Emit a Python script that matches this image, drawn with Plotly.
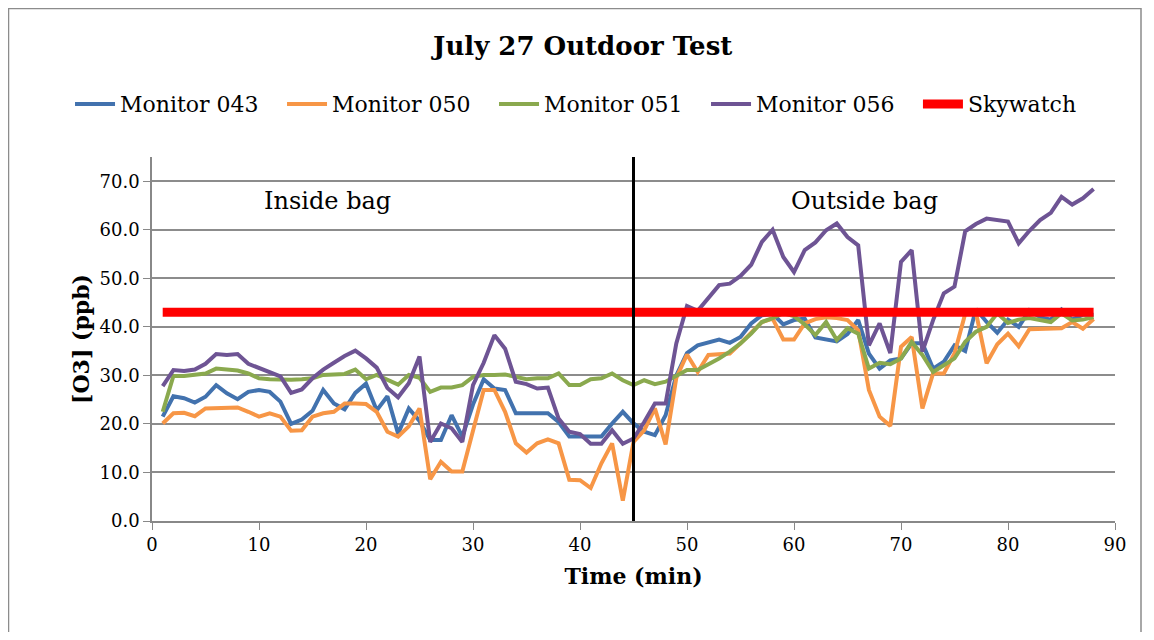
import plotly.graph_objects as go

minutes = list(range(1, 89))

monitor_043 = [21.5, 25.7, 25.3, 24.4, 25.6, 28.0, 26.3, 25.1, 26.6, 27.0,
               26.6, 24.6, 20.0, 20.9, 22.7, 27.0, 24.2, 23.0, 26.4, 28.3,
               22.8, 25.7, 18.0, 23.2, 20.6, 16.7, 16.7, 21.8, 17.4, 24.0,
               29.2, 27.3, 27.0, 22.2, 22.2, 22.2, 22.2, 20.4, 17.4, 17.4,
               17.4, 17.4, 20.1, 22.5, 20.1, 18.4, 17.7, 21.8, 30.0, 34.6,
               36.2, 36.9, 37.4, 36.7, 37.9, 40.7, 42.4, 42.7, 40.5, 41.4,
               41.7, 37.8, 37.4, 37.0, 38.5, 41.4, 34.5, 31.4, 33.1, 33.5,
               36.6, 36.6, 31.4, 32.8, 36.2, 35.0, 43.7, 41.0, 38.8, 41.5,
               40.0, 43.4, 42.0, 41.5, 43.6, 41.5, 42.5, 42.5]

monitor_050 = [20.1, 22.2, 22.3, 21.6, 23.2, 23.2, 23.3, 23.4, 22.5, 21.5,
               22.2, 21.5, 18.6, 18.7, 21.5, 22.2, 22.5, 24.2, 24.2, 24.1,
               22.5, 18.4, 17.4, 19.5, 23.2, 8.6, 12.2, 10.2, 10.2, 18.4,
               27.0, 27.0, 22.5, 16.0, 14.1, 16.0, 16.8, 16.0, 8.5, 8.4,
               6.8, 11.9, 16.0, 4.2, 16.3, 18.7, 23.2, 15.8, 29.5, 34.3,
               30.7, 34.2, 34.4, 34.5, 36.6, 38.9, 41.0, 41.7, 37.4, 37.4,
               40.7, 41.6, 42.0, 41.8, 41.4, 39.3, 27.0, 21.5, 19.6, 35.9,
               37.9, 23.2, 30.4, 30.4, 34.5, 42.7, 43.0, 32.5, 36.4, 38.6,
               36.0, 39.5, 39.6, 39.6, 39.7, 41.0, 39.6, 41.6]

monitor_051 = [22.5, 29.9, 29.9, 30.2, 30.4, 31.4, 31.1, 31.0, 30.4, 29.4,
               29.2, 29.1, 29.1, 29.2, 29.4, 30.1, 30.3, 30.3, 31.2, 29.2,
               30.1, 29.1, 28.1, 30.1, 29.5, 26.6, 27.5, 27.5, 28.0, 29.7,
               30.1, 30.1, 30.2, 29.7, 29.2, 29.4, 29.4, 30.4, 28.0, 28.0,
               29.2, 29.4, 30.4, 29.0, 28.0, 29.0, 28.2, 28.7, 30.0, 31.1,
               31.1, 32.2, 33.5, 34.9, 36.6, 38.6, 41.0, 41.8, 42.8, 42.2,
               40.5, 38.3, 41.0, 37.3, 39.7, 38.6, 31.4, 32.6, 32.3, 33.5,
               36.9, 34.2, 30.7, 32.1, 33.5, 36.9, 39.0, 40.0, 42.8, 40.8,
               41.5, 41.8, 41.5, 41.0, 42.8, 41.3, 41.5, 42.0]

monitor_056 = [27.8, 31.1, 30.9, 31.2, 32.4, 34.4, 34.2, 34.4, 32.4, 31.6,
               30.7, 29.8, 26.4, 27.1, 29.4, 31.2, 32.6, 34.0, 35.1, 33.5,
               31.6, 27.4, 25.5, 28.4, 33.9, 16.3, 20.1, 19.1, 16.3, 28.0,
               32.6, 38.3, 35.5, 28.7, 28.2, 27.3, 27.5, 21.1, 18.4, 17.9,
               15.9, 15.9, 18.7, 15.9, 17.0, 20.4, 24.2, 24.2, 36.6, 44.3,
               43.3, 45.8, 48.6, 48.9, 50.5, 52.8, 57.5, 60.0, 54.4, 51.3,
               55.8, 57.4, 59.9, 61.3, 58.5, 56.8, 36.2, 40.7, 34.6, 53.4,
               55.8, 34.9, 41.4, 46.9, 48.3, 59.7, 61.2, 62.3, 62.1, 61.7,
               57.2, 59.8, 62.0, 63.5, 66.8, 65.2, 66.5, 68.4]

skywatch_t = [1, 88]
skywatch = [43.0, 43.0]

bag_removed_t = 45

series = [
    ("Monitor 043", monitor_043, "#4272AE"),
    ("Monitor 050", monitor_050, "#F79646"),
    ("Monitor 051", monitor_051, "#8AA94E"),
    ("Monitor 056", monitor_056, "#6E5494"),
]

serif = "DejaVu Serif"

fig = go.Figure()
for name, vals, col in series:
    fig.add_trace(go.Scatter(
        x=minutes, y=vals, name=name, mode="lines",
        line=dict(color=col, width=4),
    ))

# second legend box keeps the five entries on one row
fig.add_trace(go.Scatter(
    x=skywatch_t, y=skywatch, name="Skywatch", mode="lines",
    line=dict(color="#FF0000", width=9), legend="legend2",
))

fig.add_vline(x=bag_removed_t, line=dict(color="black", width=3))

fig.add_annotation(x=16.4, y=65.9, text="Inside bag", showarrow=False,
                   font=dict(family=serif, size=24, color="black"))
fig.add_annotation(x=66.6, y=65.9, text="Outside bag", showarrow=False,
                   font=dict(family=serif, size=24, color="black"))

# outer chart border
fig.add_shape(type="rect", xref="paper", yref="paper",
              x0=-0.149, x1=1.027, y0=-0.35, y1=1.408,
              line=dict(color="#8c8c8c", width=1.5))

legend_style = dict(orientation="h", xref="container", yref="container",
                    y=0.846, xanchor="left", yanchor="middle",
                    font=dict(family=serif, size=22, color="black"),
                    itemwidth=40, tracegroupgap=0, traceorder="normal")

fig.update_layout(
    width=1138, height=624,
    paper_bgcolor="white", plot_bgcolor="white",
    margin=dict(l=144, r=31, t=149, b=111),
    title=dict(text="<b>July 27 Outdoor Test</b>", x=0.505, y=0.94,
               xanchor="center", yanchor="middle",
               font=dict(family=serif, size=26, color="black")),
    legend=dict(x=0.0545, entrywidth=157, **legend_style),
    legend2=dict(x=0.7996, **legend_style),
    xaxis=dict(range=[0, 90], dtick=10, tick0=0, showgrid=False, zeroline=False,
               showline=True, linecolor="#888888", linewidth=1.5,
               ticks="outside", ticklen=7, tickcolor="#888888",
               tickfont=dict(family=serif, size=18, color="black"),
               title=dict(text="<b>Time (min)</b>", standoff=14,
                          font=dict(family=serif, size=22, color="black"))),
    yaxis=dict(range=[0, 75], dtick=10, tick0=0, tickformat=".1f",
               showgrid=True, gridcolor="#8c8c8c", gridwidth=1.5, zeroline=False,
               showline=True, linecolor="#888888", linewidth=1.5,
               ticks="outside", ticklen=7, tickcolor="#888888",
               tickfont=dict(family=serif, size=18, color="black"),
               title=dict(text="<b>[O3] (ppb)</b>", standoff=4,
                          font=dict(family=serif, size=22, color="black"))),
)

fig.write_html("out.html")
